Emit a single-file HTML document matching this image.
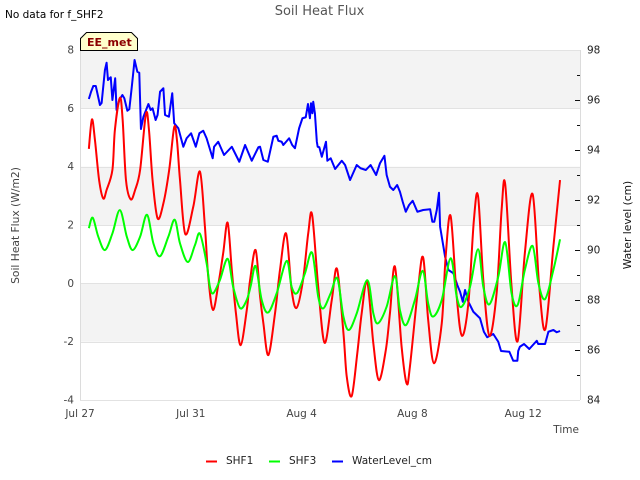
<!DOCTYPE html>
<html lang="en">
<head>
<meta charset="utf-8">
<title>Soil Heat Flux</title>
<style>
html,body{margin:0;padding:0;background:#fff;}
svg{display:block;font-family:"DejaVu Sans","Liberation Sans",sans-serif;}
</style>
</head>
<body>
<svg id="chart" xmlns="http://www.w3.org/2000/svg" width="640" height="480" viewBox="0 0 640 480">
  <rect x="0" y="0" width="640" height="480" fill="#fff"/>
  <g id="bands"></g>
  <g id="frame"></g>
  <g id="series"></g>
  <g id="ticks"></g>
  <text x="5" y="18" font-size="10.5" fill="#000">No data for f_SHF2</text>
  <text x="319.500" y="15" font-size="13" fill="#555" text-anchor="middle">Soil Heat Flux</text>
  <path d="M80.500 50.500V38.500L86.500 32.500H131.500L137.500 38.500V50.500Z" fill="#ffffcc" stroke="#000" stroke-width="1"/>
  <text x="87" y="46" font-size="11" font-weight="bold" fill="#8b0000">EE_met</text>
  <text transform="translate(19,225.500) rotate(-90)" font-size="10.700" fill="#444" text-anchor="middle">Soil Heat Flux (W/m2)</text>
  <text transform="translate(631,225) rotate(-90)" font-size="10.700" fill="#111" text-anchor="middle">Water level (cm)</text>
  <text x="579" y="433" font-size="10.500" fill="#444" text-anchor="end">Time</text>
  <g>
    <line x1="206" x2="217" y1="461.500" y2="461.500" stroke="#ff0000" stroke-width="2"/>
    <text x="226" y="464" font-size="10.500" fill="#222">SHF1</text>
    <line x1="269" x2="280" y1="461.500" y2="461.500" stroke="#00ff00" stroke-width="2"/>
    <text x="289" y="464" font-size="10.500" fill="#222">SHF3</text>
    <line x1="332" x2="343" y1="461.500" y2="461.500" stroke="#0000ff" stroke-width="2"/>
    <text x="352" y="464" font-size="10.500" fill="#222">WaterLevel_cm</text>
  </g>
</svg>
<script>
const dateLabels = ["Jul 27", "Jul 31", "Aug 4", "Aug 8", "Aug 12"];
const dateTicks = [0, 4, 8, 12, 16];
const fluxTicks = [8, 6, 4, 2, 0, -2, -4];
const shadedBands = [[6, 8], [2, 4], [-2, 0]];
const waterTicks = [98, 96, 94, 92, 90, 88, 86, 84];
const waterMinorTicks = [97, 95, 93, 91, 89, 87, 85];

const shf1Days = [0.32,0.43,0.54,0.69,0.84,0.96,1.17,1.26,1.44,1.54,1.66,1.83,1.99,2.17,2.38,2.49,2.62,2.80,3.01,3.22,3.40,3.50,3.61,3.80,4.09,4.33,4.51,4.63,4.80,5.00,5.17,5.33,5.48,5.63,5.80,6.02,6.14,6.34,6.50,6.62,6.80,7.04,7.22,7.44,7.64,7.82,8.05,8.24,8.38,8.60,8.83,9.09,9.28,9.51,9.63,9.81,10.01,10.17,10.37,10.59,10.79,11.04,11.19,11.37,11.61,11.79,11.91,12.21,12.39,12.57,12.78,13.06,13.20,13.38,13.60,13.79,14.02,14.22,14.37,14.56,14.78,15.04,15.22,15.35,15.58,15.80,16.06,16.34,16.58,16.80,17.09,17.33];
const shf1Values = [4.61,5.62,4.91,3.54,2.91,3.2,3.89,5.26,6.36,5.6,3.54,2.88,3.2,3.89,5.81,5.26,3.54,2.23,2.74,3.89,5.35,4.91,3.54,1.69,2.63,3.83,1.94,0.23,-0.91,0,1.04,2.08,0.46,-1.03,-2.12,-0.92,0.11,1.14,-0.44,-1.37,-2.46,-1.03,0.46,1.71,-0.23,-0.84,0.11,1.72,2.35,-0.12,-2.04,-0.57,0.49,-1.7,-3.2,-3.86,-2.4,-1.02,0.05,-2.06,-3.32,-2.29,-1.02,0.57,-2.17,-3.43,-2.86,-0.12,0.88,-1.26,-2.74,-1.37,0.91,2.31,-0.46,-1.8,-0.69,2.17,2.99,0.11,-1.8,-0.34,2.51,3.4,-0.12,-1.98,1.04,3.06,-0.12,-1.57,1.26,3.54];

const shf3Days = [0.32,0.46,0.66,0.90,1.17,1.44,1.69,1.90,2.17,2.42,2.65,2.89,3.19,3.42,3.61,3.89,4.15,4.33,4.57,4.69,4.81,5.05,5.33,5.53,5.78,6.02,6.17,6.34,6.56,6.79,7.10,7.46,7.64,7.84,8.12,8.38,8.60,8.78,9.05,9.29,9.51,9.71,9.99,10.37,10.59,10.76,11.07,11.37,11.55,11.77,12.09,12.37,12.57,12.75,13.06,13.38,13.60,13.78,14.08,14.37,14.56,14.78,15.10,15.35,15.58,15.80,16.06,16.34,16.55,16.79,17.09,17.33];
const shf3Values = [1.89,2.25,1.6,1.14,1.71,2.51,1.6,1.14,1.6,2.35,1.37,0.93,1.6,2.18,1.37,0.73,1.31,1.7,0.69,-0.12,-0.34,0.11,0.84,-0.12,-0.85,-0.57,-0.06,0.59,-0.57,-1,-0.34,0.77,-0.12,-0.33,0.34,1.05,-0.46,-0.86,-0.34,0.17,-1.14,-1.6,-1.03,0.11,-1.03,-1.37,-0.8,0.25,-0.92,-1.43,-0.57,0.43,-0.69,-1.14,-0.57,0.86,-0.46,-0.8,-0.12,1.17,-0.12,-0.72,0.23,1.41,-0.34,-0.74,0.46,1.28,0,-0.54,0.46,1.51];

const waterDays = [0.32,0.40,0.48,0.57,0.72,0.78,0.90,0.96,1.01,1.11,1.17,1.27,1.32,1.42,1.53,1.60,1.71,1.78,1.87,1.97,2.07,2.14,2.20,2.29,2.47,2.55,2.62,2.73,2.80,2.89,3.01,3.07,3.21,3.33,3.40,3.55,3.73,3.85,4.01,4.18,4.31,4.45,4.57,4.79,4.84,4.99,5.20,5.48,5.75,5.96,6.20,6.44,6.50,6.62,6.78,6.98,7.10,7.16,7.28,7.34,7.55,7.66,7.76,7.91,8.03,8.15,8.23,8.30,8.34,8.39,8.42,8.48,8.55,8.58,8.64,8.73,8.88,8.93,9.05,9.21,9.45,9.57,9.75,9.99,10.13,10.32,10.49,10.69,10.83,10.99,11.07,11.19,11.31,11.45,11.55,11.65,11.76,11.88,12.01,12.18,12.39,12.64,12.72,12.79,12.88,12.96,13.00,13.18,13.30,13.48,13.62,13.72,13.82,13.90,14.02,14.20,14.44,14.58,14.70,14.92,15.10,15.20,15.50,15.64,15.79,15.82,15.88,16.03,16.22,16.49,16.54,16.79,16.91,17.09,17.21,17.33];
const waterValues = [96.04,96.33,96.56,96.56,95.8,95.88,97.2,97.49,96.8,96.91,96,96.87,95.6,96,96.2,96.07,95.57,95.63,96.53,97.6,97.13,97.09,94.84,95.33,95.84,95.6,95.67,95.2,95.4,96.33,96.47,95.4,95.33,96.27,95.07,94.87,94.13,94.47,94.67,94.13,94.67,94.77,94.47,93.67,94.13,94.33,93.8,94.13,93.53,94.2,93.57,94.11,94.13,93.6,93.53,94.53,94.57,94.37,94.33,94.2,94.47,94.2,94.07,94.87,95.27,95.31,95.84,95.27,95.87,95.47,95.93,95.47,94.33,94.13,94.11,93.73,94.33,93.57,93.67,93.24,93.57,93.4,92.8,93.4,93.27,93.2,93.4,93,93.47,93.77,93,92.53,92.4,92.6,92.33,91.93,91.53,91.8,91.97,91.53,91.6,91.63,91.13,91.13,91.6,92.29,90.93,89.73,89.2,89.07,88.6,88.33,87.93,88.4,87.93,87.53,87.27,86.73,86.51,86.64,86.33,85.96,85.93,85.57,85.57,85.96,86.13,86.24,86.04,86.37,86.24,86.24,86.73,86.8,86.71,86.76];

const NS = "http://www.w3.org/2000/svg";
const plot = { left: 80, right: 580, top: 50, bottom: 400 };

function xScale(day) { return plot.left + day * 27.7; }
function fluxScale(v) { return plot.top + (8 - v) * (plot.bottom - plot.top) / 12; }
function waterScale(v) { return plot.top + (98 - v) * (plot.bottom - plot.top) / 14; }

function make(tag, attrs, parent, text) {
  const el = document.createElementNS(NS, tag);
  for (const k in attrs) el.setAttribute(k, attrs[k]);
  if (text !== undefined) el.textContent = text;
  parent.appendChild(el);
  return el;
}

function smoothPath(pts) {
  let d = "M" + pts[0][0].toFixed(2) + " " + pts[0][1].toFixed(2);
  for (let i = 0; i < pts.length - 1; i++) {
    const p0 = pts[Math.max(0, i - 1)], p1 = pts[i], p2 = pts[i + 1], p3 = pts[Math.min(pts.length - 1, i + 2)];
    const c1x = p1[0] + (p2[0] - p0[0]) / 6, c1y = p1[1] + (p2[1] - p0[1]) / 6;
    const c2x = p2[0] - (p3[0] - p1[0]) / 6, c2y = p2[1] - (p3[1] - p1[1]) / 6;
    d += "C" + c1x.toFixed(2) + " " + c1y.toFixed(2) + " " + c2x.toFixed(2) + " " + c2y.toFixed(2) + " " + p2[0].toFixed(2) + " " + p2[1].toFixed(2);
  }
  return d;
}

function straightPath(pts) {
  return "M" + pts.map(function (p) { return p[0].toFixed(2) + " " + p[1].toFixed(2); }).join("L");
}

const bandsGroup = document.getElementById("bands");
const frameGroup = document.getElementById("frame");
const seriesGroup = document.getElementById("series");
const ticksGroup = document.getElementById("ticks");

shadedBands.forEach(function (b) {
  const band = make("rect", { x: plot.left, y: fluxScale(b[1]), width: plot.right - plot.left, height: fluxScale(b[0]) - fluxScale(b[1]), fill: "#f3f3f3" }, bandsGroup);
  
  
});

fluxTicks.forEach(function (v) {
  const y = Math.round(fluxScale(v)) + 0.5;
  const grid = make("line", { x1: plot.left, x2: plot.right, y1: y, y2: y, stroke: "#e2e2e2", "stroke-width": 1 }, frameGroup);
  
  
  const label = make("text", { x: 74, y: fluxScale(v) + 3.500, "font-size": 10.500, fill: "#444", "text-anchor": "end" }, ticksGroup, String(v));
  
  
});

[plot.left, plot.right].forEach(function (x) {
  const edge = make("line", { x1: x + 0.5, x2: x + 0.5, y1: plot.top, y2: plot.bottom, stroke: "#dcdcdc", "stroke-width": 1 }, frameGroup);
  
  
});

dateTicks.forEach(function (day, i) {
  const label = make("text", { x: xScale(day), y: 417, "font-size": 10.500, fill: "#444", "text-anchor": "middle" }, ticksGroup, dateLabels[i]);
  
  
});

waterTicks.forEach(function (v) {
  const y = Math.round(waterScale(v)) + 0.5;
  if (v !== 98 && v !== 84) {
    const tick = make("line", { x1: plot.right - 5, x2: plot.right, y1: y, y2: y, stroke: "#111", "stroke-width": 1 }, ticksGroup);
    
    
  }
  const label = make("text", { x: 587, y: waterScale(v) + 3.500, "font-size": 10.500, fill: "#222" }, ticksGroup, String(v));
  
  
});

waterMinorTicks.forEach(function (v) {
  const y = Math.round(waterScale(v)) + 0.5;
  const tick = make("line", { x1: plot.right - 3, x2: plot.right, y1: y, y2: y, stroke: "#111", "stroke-width": 1 }, ticksGroup);
  
  
});

const waterPts = waterDays.map(function (d, i) { return [xScale(d), waterScale(waterValues[i])]; });
const shf1Pts = shf1Days.map(function (d, i) { return [xScale(d), fluxScale(shf1Values[i])]; });
const shf3Pts = shf3Days.map(function (d, i) { return [xScale(d), fluxScale(shf3Values[i])]; });

const waterLine = make("path", { d: straightPath(waterPts), fill: "none", stroke: "#0000ff", "stroke-width": 2, "stroke-linejoin": "round" }, seriesGroup);



const shf1Line = make("path", { d: smoothPath(shf1Pts), fill: "none", stroke: "#ff0000", "stroke-width": 2, "stroke-linejoin": "round" }, seriesGroup);



const shf3Line = make("path", { d: smoothPath(shf3Pts), fill: "none", stroke: "#00ff00", "stroke-width": 2, "stroke-linejoin": "round" }, seriesGroup);


</script>
</body>
</html>
